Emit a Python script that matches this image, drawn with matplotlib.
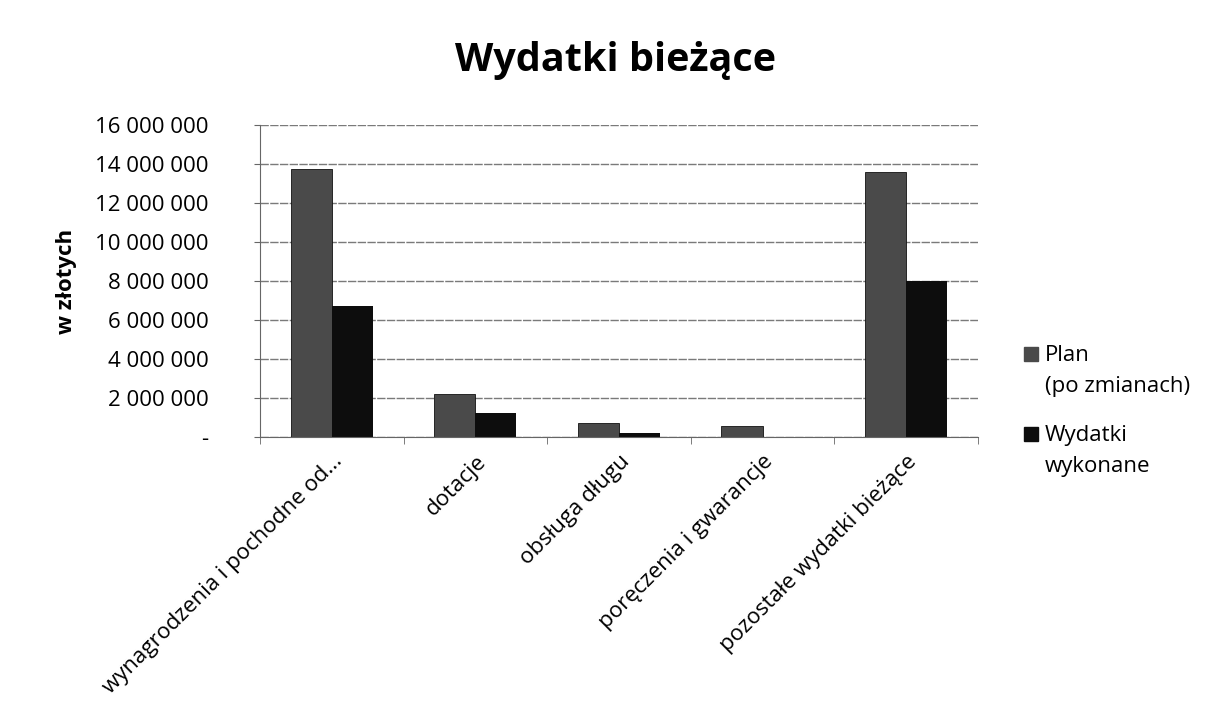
import matplotlib
matplotlib.use("Agg")
import matplotlib.pyplot as plt
from matplotlib.patches import Rectangle
from matplotlib.ticker import FuncFormatter, MultipleLocator
import numpy as np

plt.rcParams["font.family"] = ["Open Sans", "DejaVu Sans"]

categories = [
    "wynagrodzenia i pochodne od...",
    "dotacje",
    "obsługa długu",
    "poręczenia i gwarancje",
    "pozostałe wydatki bieżące",
]
plan = [13_750_000, 2_200_000, 720_000, 560_000, 13_570_000]
wykonane = [6_700_000, 1_230_000, 220_000, 0, 8_000_000]
series_names = ["Plan\n(po zmianach)", "Wydatki\nwykonane"]
series_colors = ["#4a4a4a", "#0d0d0d"]


def fmt(v, _pos):
    if abs(v) < 1:
        return "-"
    return f"{int(v):,}".replace(",", " ")


W, H = 1212, 711
fig = plt.figure(figsize=(W / 100, H / 100), dpi=100)
ax = fig.add_axes([0.2145, 0.3854, 0.5924, 0.4388])

x = np.arange(len(categories))
w = 0.286
ax.bar(x - w / 2, plan, w, color=series_colors[0], edgecolor="#111111", lw=0.6, zorder=2)
ax.bar(x + w / 2, wykonane, w, color=series_colors[1], zorder=2)

ax.set_xlim(-0.5, len(categories) - 0.5)
ax.set_ylim(0, 16_000_000)
ax.yaxis.set_major_locator(MultipleLocator(2_000_000))
ax.yaxis.set_major_formatter(FuncFormatter(fmt))
ax.grid(axis="y", color="#7a7a7a", lw=1.0, ls=(0, (6, 1)), zorder=0)

for s in ("top", "right"):
    ax.spines[s].set_visible(False)
for s in ("left", "bottom"):
    ax.spines[s].set_color("#666666")
    ax.spines[s].set_linestyle((0, (2, 1)))

ax.set_xticks(x)
ax.set_xticklabels(categories, rotation=45, ha="right", va="top",
                   rotation_mode="anchor", fontsize=16)
ax.set_xticks(np.arange(-0.5, len(categories)), minor=True)
ax.tick_params(axis="x", which="major", length=0, pad=10)
ax.tick_params(axis="x", which="minor", length=5, color="#666666")
ax.tick_params(axis="y", length=4, color="#666666", labelsize=16, pad=33)

ax.set_ylabel("w złotych", fontsize=16, fontweight="bold", labelpad=13)
fig.text(0.508, 0.915, "Wydatki bieżące", fontsize=28.5, fontweight="bold",
         ha="center", va="center")

# legend: square marker aligned with the first line of each two-line label
for i, (name, col) in enumerate(zip(series_names, series_colors)):
    yc = 354 + i * 80
    fig.patches.append(Rectangle((1024 / W, 1 - (yc + 7) / H), 14 / W, 14 / H,
                                 transform=fig.transFigure, color=col))
    fig.text(1045 / W, 1 - (yc - 9) / H, name, fontsize=16, ha="left", va="top",
             linespacing=1.6)

fig.savefig("out.png", dpi=100)
